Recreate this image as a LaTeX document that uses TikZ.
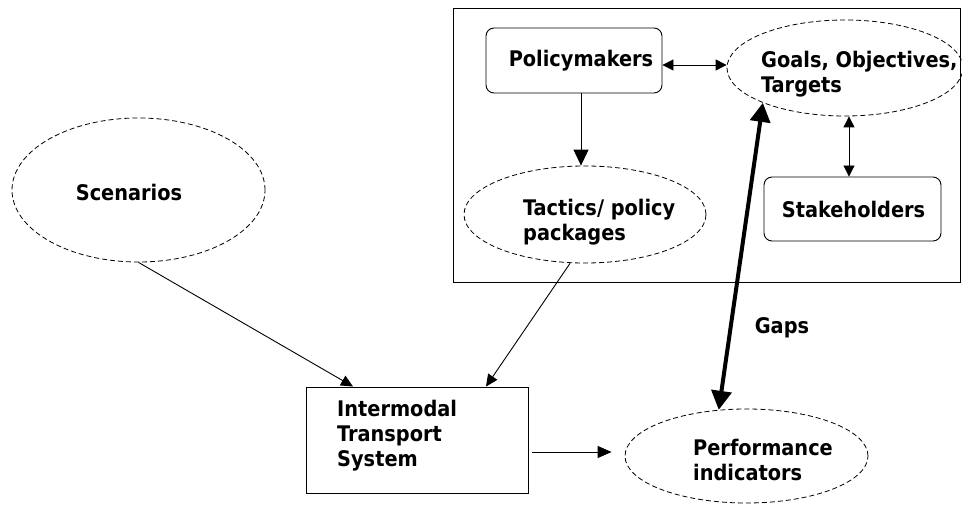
\documentclass[tikz,border=0pt]{standalone}
\usepackage{fontspec}
\setmainfont{DejaVu Sans Condensed}
\usetikzlibrary{shapes.geometric,arrows.meta}
\begin{document}
\begin{tikzpicture}[x=1pt,y=-1pt,
  lbl/.style={font=\fontsize{21.5}{25}\selectfont\bfseries, align=left, inner sep=0pt},
  dell/.style={ellipse, draw, dashed, dash pattern=on 5pt off 3pt, line width=0.8pt, inner sep=0pt},
  rbox/.style={draw, rounded corners=8pt, line width=0.9pt, inner sep=0pt},
  sbox/.style={draw, line width=0.9pt, inner sep=0pt},
  conn/.style={line width=0.9pt, -{Triangle[length=12pt,width=11pt]}},
  bconn/.style={line width=0.9pt, {Triangle[length=11pt,width=11pt]}-{Triangle[length=11pt,width=11pt]}},
  thick/.style={line width=4pt, {Triangle[length=19pt,width=20pt]}-{Triangle[length=19pt,width=20pt]}}
]
\useasboundingbox (0,0) rectangle (962,505);
\fill[white] (0,0) rectangle (962,505);
% outer frame
\node[sbox, line width=1pt, minimum width=507pt, minimum height=274pt] (frame) at (706.5,146) {};
% shapes
\node[rbox, minimum width=176pt, minimum height=65pt] (pol) at (574,60.5) {};
\node[dell, minimum width=236pt, minimum height=96pt] (goals) at (845,68) {};
\node[rbox, minimum width=177pt, minimum height=64pt] (stake) at (852.5,209) {};
\node[dell, minimum width=242pt, minimum height=97pt] (tac) at (585,214.5) {};
\node[dell, minimum width=253pt, minimum height=144pt] (scen) at (138.5,190) {};
\node[sbox, minimum width=222pt, minimum height=106pt] (its) at (417,440) {};
\node[dell, minimum width=243pt, minimum height=94pt] (perf) at (746.5,456) {};
% texts
\node[lbl] (polT) at (581,61) {Policymakers};
\node[lbl, anchor=west] (goalsT) at (761,74) {Goals, Objectives,\\Targets};
\node[lbl] (stakeT) at (853.5,209) {Stakeholders};
\node[lbl, anchor=west] (tacT) at (523,222.5) {Tactics/ policy\\packages};
\node[lbl] (scenT) at (129,192) {Scenarios};
\node[lbl, anchor=west] (itsT) at (337,436) {Intermodal\\Transport\\System};
\node[lbl, anchor=west] (perfT) at (693,459.5) {Performance\\indicators};
\node[lbl] (gapsT) at (782,328) {Gaps};
% connectors
\draw[conn, -{Triangle[length=16pt,width=15pt]}] (pol.south -| 581,0) -- (tac.north -| 581,0);
\draw[bconn] (pol.east |- 0,65) -- (goals.west |- 0,65);
\draw[bconn] (goals.south -| 849,0) -- (stake.north -| 849,0);
\draw[thick] (perf.121.8) -- (goals.203.4);
\draw[conn] (scen.south) -- (its.north -| 353,0);
\draw[conn] (tac.south -| 570,0) -- (its.north -| 486,0);
\draw[conn, -{Triangle[length=14pt,width=12pt]}, shorten <=4pt, shorten >=13pt] (its.east |- 0,452) -- (perf.west |- 0,452);
\end{tikzpicture}
\end{document}
